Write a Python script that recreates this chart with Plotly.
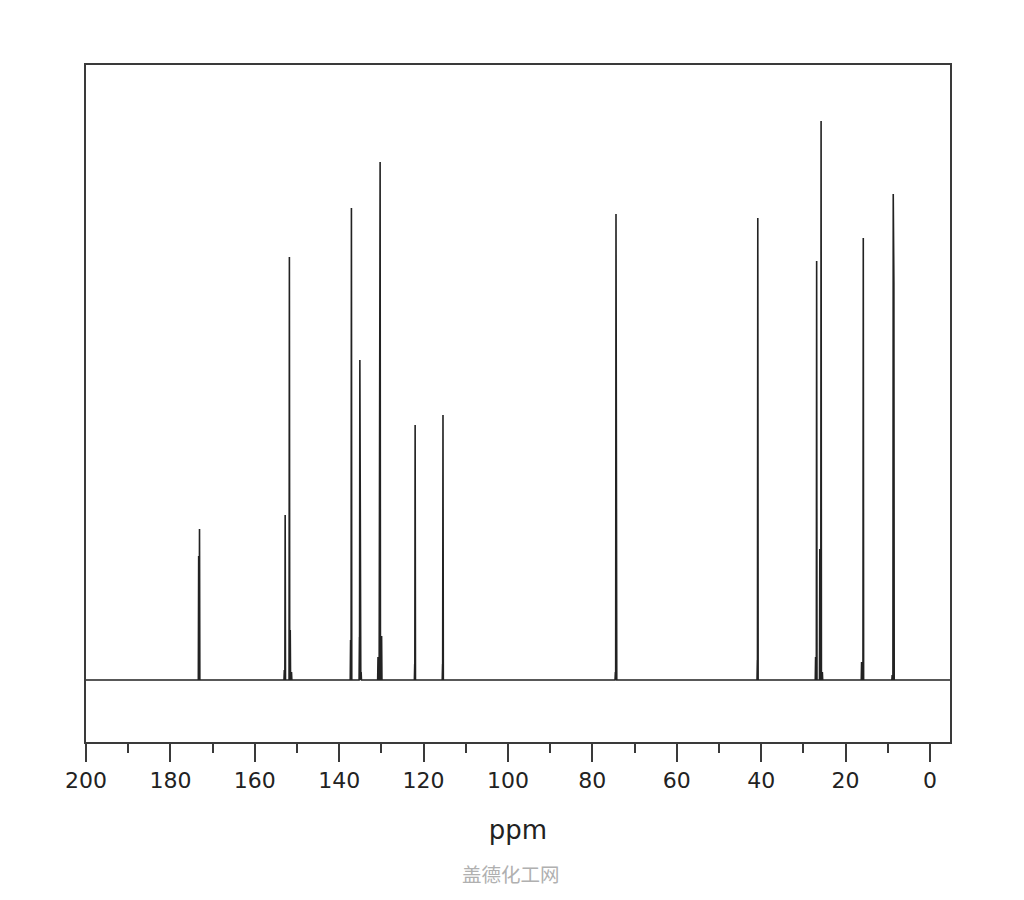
import plotly.graph_objects as go

# Peak list (chemical shift in ppm, relative height)
peak_ppm = [173.3, 173.1, 153.0, 152.8, 151.8, 151.6, 151.3,
            137.3, 137.1, 135.2, 135.1, 134.8,
            130.8, 130.45, 130.3, 129.95,
            122.1, 122.0, 115.5, 115.4,
            74.55, 74.4, 74.3,
            40.9, 40.8,
            27.1, 26.85, 26.1, 25.8, 25.5,
            16.2, 15.8, 8.95, 8.7, 8.55]
peak_height = [124, 151, 10, 165, 423, 50, 8,
               40, 472, 43, 320, 8,
               23, 267, 518, 44,
               16, 255, 16, 265,
               8, 466, 37,
               20, 462,
               23, 419, 131, 559, 8,
               18, 442, 5, 486, 397]

x_range = [200, -4.75]
y_range = [-62, 615]
major_ticks = [200, 180, 160, 140, 120, 100, 80, 60, 40, 20, 0]
tick_labels = [str(t) for t in major_ticks]

half_width = 0.08  # ppm, line-shape half width (style)

pairs = sorted(zip(peak_ppm, peak_height), key=lambda t: -t[0])
xs = [x_range[0]]
ys = [0]
for p, h in pairs:
    xs += [p + half_width, p, p - half_width]
    ys += [0, h, 0]
xs.append(x_range[1])
ys.append(0)

fig = go.Figure()
fig.add_trace(go.Scatter(x=xs, y=ys, mode="lines",
                         line=dict(color="#222222", width=1.6),
                         hoverinfo="skip", showlegend=False))

fig.update_layout(
    width=1024, height=900,
    margin=dict(l=78, r=82, t=57, b=166),
    paper_bgcolor="white", plot_bgcolor="white",
    font=dict(family="DejaVu Sans", color="#222222"),
    xaxis=dict(range=x_range, showgrid=False, zeroline=False,
               showline=True, mirror=True, linecolor="#3a3a3a", linewidth=2,
               ticks="outside", ticklen=18, tickwidth=2, tickcolor="#3a3a3a",
               tickmode="array", tickvals=major_ticks, ticktext=tick_labels,
               tickfont=dict(size=22, family="DejaVu Sans", color="#222222"),
               minor=dict(dtick=10, tick0=0, ticks="outside", ticklen=9,
                          tickwidth=2, tickcolor="#3a3a3a", showgrid=False),
               title=dict(text="ppm", font=dict(size=26, family="DejaVu Sans", color="#222222"),
                          standoff=28)),
    yaxis=dict(range=y_range, showgrid=False, zeroline=False,
               showline=True, mirror=True, linecolor="#3a3a3a", linewidth=2,
               showticklabels=False, ticks=""),
)

fig.add_annotation(text="盖德化工网", xref="paper", yref="paper",
                   x=0.492, y=-0.218, showarrow=False,
                   font=dict(family="Noto Sans CJK SC", size=19.5, color="#b0b0b0"))

fig.write_html("out.html")
